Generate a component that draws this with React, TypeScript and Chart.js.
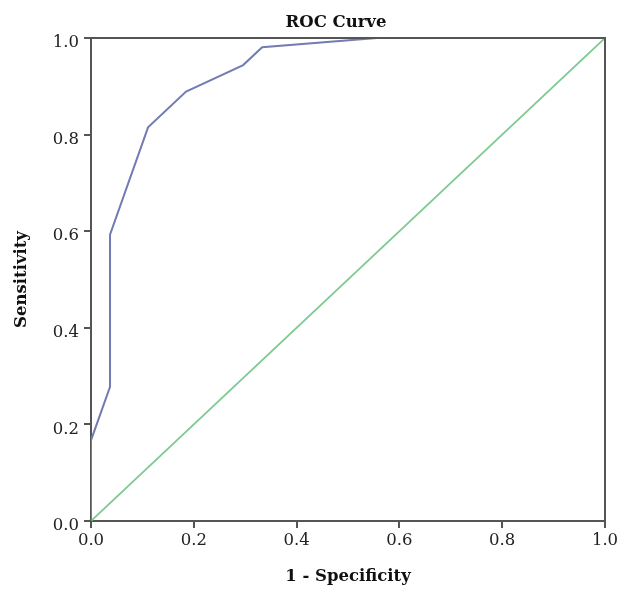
import React, { useEffect, useRef } from "react";
import { Chart, registerables } from "chart.js";

Chart.register(...registerables);

const chartTitle = "ROC Curve";
const xAxisTitle = "1 - Specificity";
const yAxisTitle = "Sensitivity";

// ROC curve points (1 - specificity, sensitivity)
const rocX = [0, 0, 0.037, 0.037, 0.111, 0.185, 0.296, 0.333, 0.556, 1.0];
const rocY = [0, 0.167, 0.278, 0.593, 0.815, 0.889, 0.944, 0.981, 1.0, 1.0];

// reference line
const refX = [0, 1];
const refY = [0, 1];

const tickValues = [0, 0.2, 0.4, 0.6, 0.8, 1.0];

const serif = "'DejaVu Serif', serif";

export default function App() {
  const canvasRef = useRef<HTMLCanvasElement | null>(null);

  useEffect(() => {
    if (!canvasRef.current) return;

    const framePlugin = {
      id: "frame",
      afterDraw(chart: any) {
        const { ctx, chartArea } = chart;
        ctx.save();
        ctx.strokeStyle = "#555555";
        ctx.lineWidth = 2;
        ctx.beginPath();
        ctx.moveTo(chartArea.left, chartArea.top);
        ctx.lineTo(chartArea.right, chartArea.top);
        ctx.lineTo(chartArea.right, chartArea.bottom);
        ctx.stroke();
        ctx.font = `bold 16.5px ${serif}`;
        ctx.fillStyle = "#111111";
        ctx.textAlign = "center";
        ctx.textBaseline = "alphabetic";
        ctx.fillText(chartTitle, 336, 27);
        ctx.restore();
      },
    };

    const chart = new Chart(canvasRef.current, {
      type: "scatter",
      data: {
        datasets: [
          {
            label: "ROC",
            data: rocX.map((x, i) => ({ x, y: rocY[i] })),
            showLine: true,
            borderColor: "#737bb3",
            borderWidth: 2,
            pointRadius: 0,
            tension: 0,
          },
          {
            label: "Reference",
            data: refX.map((x, i) => ({ x, y: refY[i] })),
            showLine: true,
            borderColor: "#7fca92",
            borderWidth: 1.8,
            pointRadius: 0,
          },
        ],
      },
      options: {
        animation: false,
        responsive: true,
        maintainAspectRatio: false,
        layout: { padding: { top: 38, right: 20, left: 0, bottom: 0 } },
        plugins: {
          legend: { display: false },
          title: { display: false },
          tooltip: { enabled: false },
        },
        scales: {
          x: {
            type: "linear",
            min: 0,
            max: 1,
            afterBuildTicks(scale: any) {
              scale.ticks = tickValues.map((v) => ({ value: v }));
            },
            afterFit(scale: any) {
              scale.height = 68;
            },
            ticks: {
              color: "#222222",
              font: { family: serif, size: 16.5 },
              padding: 3,
              maxRotation: 0,
              callback: (v: any) => Number(v).toFixed(1),
            },
            grid: {
              drawOnChartArea: false,
              drawTicks: true,
              tickLength: 7,
              color: "#555555",
              lineWidth: 2,
            },
            border: { display: true, color: "#555555", width: 2 },
            title: {
              display: true,
              text: xAxisTitle,
              color: "#111111",
              font: { family: serif, size: 16.5, weight: "bold" },
              padding: { top: 0, bottom: 2 },
            },
          },
          y: {
            type: "linear",
            min: 0,
            max: 1,
            afterBuildTicks(scale: any) {
              scale.ticks = tickValues.map((v) => ({ value: v }));
            },
            afterFit(scale: any) {
              scale.width = 91;
            },
            ticks: {
              color: "#222222",
              font: { family: serif, size: 16.5 },
              padding: 5,
              labelOffset: 5,
              callback: (v: any) => Number(v).toFixed(1),
            },
            grid: {
              drawOnChartArea: false,
              drawTicks: true,
              tickLength: 7,
              color: "#555555",
              lineWidth: 2,
            },
            border: { display: true, color: "#555555", width: 2 },
            title: {
              display: true,
              text: yAxisTitle,
              color: "#111111",
              font: { family: serif, size: 16.5, weight: "bold" },
              padding: { top: 12, bottom: 0 },
            },
          },
        },
      },
      plugins: [framePlugin],
    });

    return () => chart.destroy();
  }, []);

  return (
    <div
      style={{
        position: "fixed",
        left: 0,
        top: 0,
        width: 625,
        height: 589,
        background: "#ffffff",
      }}
    >
      <canvas ref={canvasRef} />
    </div>
  );
}
